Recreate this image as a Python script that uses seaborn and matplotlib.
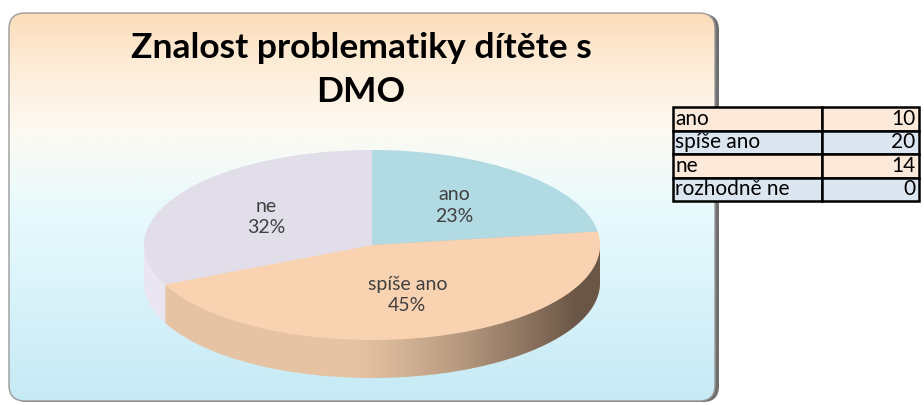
import numpy as np
import matplotlib
matplotlib.use("Agg")
import matplotlib.pyplot as plt
from matplotlib.patches import FancyBboxPatch, PathPatch
from matplotlib.path import Path
from matplotlib.colors import to_rgb
import seaborn as sns

sns.set_theme(style="white")
plt.rcParams['font.family'] = ['Lato', 'DejaVu Sans']

# data
categories = ['ano', 'spíše ano', 'ne', 'rozhodně ne']
counts = [10, 20, 14, 0]
title = 'Znalost problematiky dítěte s\nDMO'

top_colors = ['#b2dae2', '#f9d3b1', '#e1dde9', '#c8c8e0']
side_colors = ['#97bfc8', '#e6c3a3', '#eae6f1', '#b0b0c8']
row_colors = ['#fde9d9', '#dce6f1']

W, H = 924, 405
fig = plt.figure(figsize=(W / 100, H / 100), dpi=100)

# background panel with gradient
bg = fig.add_axes([0, 0, 1, 1])
bg.set_xlim(0, W)
bg.set_ylim(H, 0)
bg.axis('off')

shadow = FancyBboxPatch((11, 14), 708, 388, boxstyle='round,pad=0,rounding_size=16',
                        fc='#6f6f6f', ec='none')
bg.add_patch(shadow)
panel = FancyBboxPatch((9, 13), 706, 388, boxstyle='round,pad=0,rounding_size=16',
                       fc='none', ec='#9a9a9a', lw=1.0)
bg.add_patch(panel)
stops = [(0.0, '#fcdcb9'), (0.12, '#feebd5'), (0.3, '#fdfaf2'),
         (0.5, '#e9fafd'), (1.0, '#c6eaf5')]
ys = np.linspace(0, 1, 256)
grad = np.zeros((256, 1, 3))
for c in range(3):
    grad[:, 0, c] = np.interp(ys, [s[0] for s in stops], [to_rgb(s[1])[c] for s in stops])
im = bg.imshow(grad, extent=(9, 715, 401, 13), aspect='auto', zorder=1)
im.set_clip_path(panel)
panel.set_zorder(2)

for i, line in enumerate(title.split('\n')):
    bg.text(361, 58 + 44 * i, line, ha='center', va='baseline', fontsize=25.5,
            fontweight='bold', color='black', zorder=3)

# 3D-looking pie
px0, px1, py0, py1 = 144, 600, 150, 378
rb = 95.0
depth = (py1 - py0 - 2 * rb) / rb
ax = fig.add_axes([px0 / W, (H - py1) / H, (px1 - px0) / W, (py1 - py0) / H])
ax.axis('off')

for d in np.linspace(-depth, 0, 30)[:-1]:
    ax.pie(counts, colors=side_colors, startangle=90, counterclock=False,
           center=(0, d), radius=1, wedgeprops=dict(linewidth=0))

# shading of the side wall
t = np.linspace(np.pi, 2 * np.pi, 200)
verts = np.concatenate([np.c_[np.cos(t), np.sin(t)],
                        np.c_[np.cos(t[::-1]), np.sin(t[::-1]) - depth]])
band = PathPatch(Path(verts, closed=False), fc='none', ec='none', transform=ax.transData)
ax.add_patch(band)
xs = np.linspace(-1, 1, 300)
shade = np.zeros((1, 300, 4))
shade[..., 0], shade[..., 1], shade[..., 2] = 0.33, 0.26, 0.21
shade[0, :, 3] = np.clip((xs + 0.1) / 1.0, 0, 1) ** 1.3 * 0.85
sim = ax.imshow(shade, extent=(-1, 1, -1 - depth, 0.2), aspect='auto', zorder=5)
sim.set_clip_path(band)

names = iter(categories)


def fmt(p):
    name = next(names)
    return f'{name}\n{p:.0f}%' if p > 0 else ''


wedges, texts, autotexts = ax.pie(counts, colors=top_colors, startangle=90, counterclock=False,
                                  radius=1, autopct=fmt, pctdistance=0.55,
                                  wedgeprops=dict(linewidth=0, zorder=6),
                                  textprops=dict(fontsize=14, color='#404040', zorder=7))
for w in wedges:
    w.set_zorder(6)
for tx in autotexts:
    tx.set_zorder(7)
    tx.set_linespacing(1.3)

ax.set_xlim(-1, 1)
ax.set_ylim(-1 - depth, 1)
ax.set_aspect('auto')

# data table
tx0, tx1, ty0, ty1 = 673, 919, 107, 201
tax = fig.add_axes([tx0 / W, (H - ty1) / H, (tx1 - tx0) / W, (ty1 - ty0) / H])
tax.axis('off')
cell_text = [[c, str(v)] for c, v in zip(categories, counts)]
cell_colours = [[row_colors[i % 2]] * 2 for i in range(len(categories))]
tbl = tax.table(cellText=cell_text, cellColours=cell_colours, bbox=[0, 0, 1, 1],
                colWidths=[149 / 246, 97 / 246])
tbl.auto_set_font_size(False)
for (r, c), cell in tbl.get_celld().items():
    cell.set_linewidth(1.8)
    cell.set_edgecolor('black')
    cell.get_text().set_fontsize(15)
    cell.get_text().set_color('black')
    if c == 0:
        cell.get_text().set_ha('left')
        cell.PAD = 0.015
    else:
        cell.get_text().set_ha('right')
        cell.PAD = 0.04

fig.savefig('out.png', dpi=100, facecolor='white')
